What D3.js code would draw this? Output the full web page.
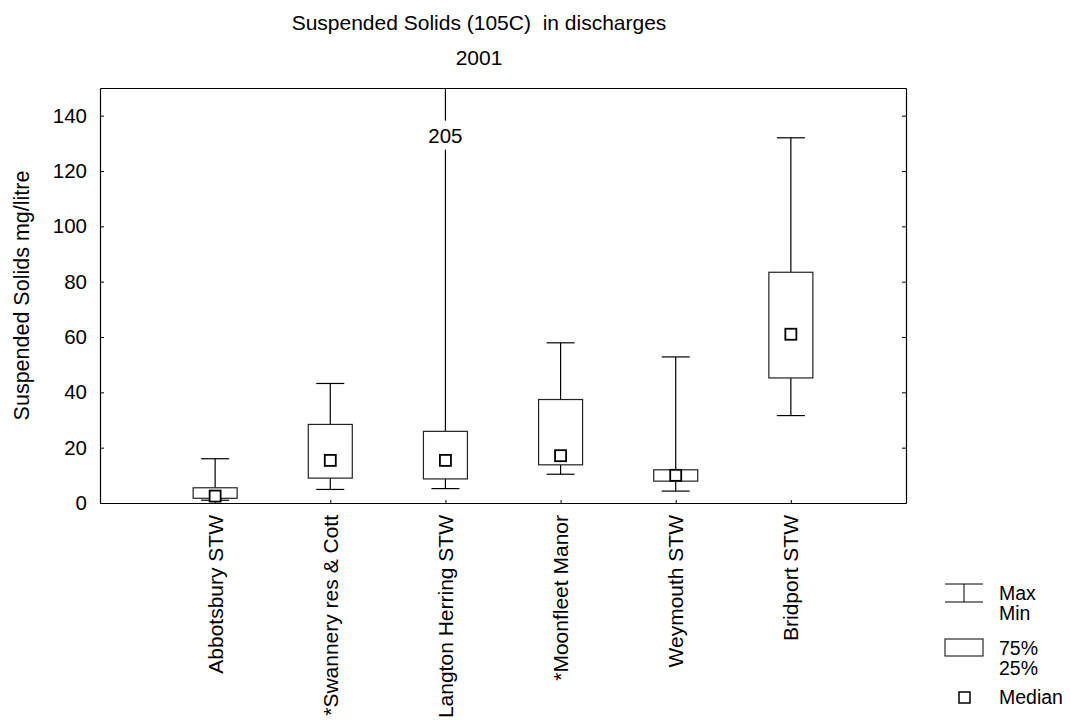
<!DOCTYPE html>
<html>
<head>
<meta charset="utf-8">
<script src="https://cdn.jsdelivr.net/npm/d3@7"></script>
<style>
  html, body { margin: 0; padding: 0; background: #fff; }
  svg { display: block; font-family: Arial, "Liberation Sans", sans-serif; }
  text { white-space: pre; }
</style>
</head>
<body>
<svg id="chart" width="1071" height="722"></svg>
<script>
// ---- Data ----
const categories = ["Abbotsbury STW", "*Swannery res & Cott", "Langton Herring STW", "*Moonfleet Manor", "Weymouth STW", "Bridport STW"];
const maxValues    = [16, 43.2, 205, 57.9, 52.8, 132];
const q3Values     = [5.5, 28.4, 25.9, 37.4, 12.0, 83.4];
const medianValues = [2.5, 15.4, 15.4, 17.1, 10.0, 61.0];
const q1Values     = [1.7, 9.0, 8.7, 13.8, 7.9, 45.2];
const minValues    = [1.0, 4.9, 5.2, 10.4, 4.3, 31.6];
const yTicks = [0, 20, 40, 60, 80, 100, 120, 140];
const titleLines = ["Suspended Solids (105C)  in discharges", "2001"];
const yLabel = "Suspended Solids mg/litre";
const legendLabels = [["Max", "Min"], ["75%", "25%"], ["Median"]];

// ---- Layout ----
const svg = d3.select("#chart");
const pLeft = 100, pRight = 906, pTop = 88, pBottom = 503;
const fs = 21;

const x = d3.scalePoint().domain(categories).range([pLeft, pRight]).padding(1);
const y = d3.scaleLinear().domain([0, 150]).range([pBottom, pTop]).clamp(true);

// title
svg.selectAll("text.title").data(titleLines).join("text")
  .attr("class", "title")
  .attr("x", 479).attr("y", (d, i) => 30 + i * 35)
  .attr("text-anchor", "middle").attr("font-size", fs).attr("fill", "#000")
  .attr("xml:space", "preserve")
  .text(d => d);

// axes
const gL = svg.append("g").attr("transform", `translate(${pLeft},0)`)
  .call(d3.axisLeft(y).tickValues(yTicks).tickSizeInner(-4).tickSizeOuter(0).tickPadding(13));
const gR = svg.append("g").attr("transform", `translate(${pRight},0)`)
  .call(d3.axisRight(y).tickValues(yTicks).tickSizeInner(-4).tickSizeOuter(0).tickFormat(""));
const gB = svg.append("g").attr("transform", `translate(0,${pBottom})`)
  .call(d3.axisBottom(x).tickSizeInner(-3).tickSizeOuter(0).tickFormat(""));
const gT = svg.append("g").attr("transform", `translate(0,${pTop})`)
  .call(d3.axisTop(x).tickSize(0).tickFormat(""));
[gL, gR, gB, gT].forEach(g => {
  g.select(".domain").attr("stroke", "#000").attr("stroke-width", 1.2);
  g.selectAll(".tick line").attr("stroke", "#000");
});
gL.selectAll(".tick text").attr("font-size", fs - 0.5).attr("fill", "#000")
  .attr("font-family", 'Arial, "Liberation Sans", sans-serif');

// x labels
svg.append("g").selectAll("text").data(categories).join("text")
  .attr("transform", d => `translate(${x(d)},${pBottom + 12}) rotate(-90)`)
  .attr("text-anchor", "end").attr("dy", "0.35em")
  .attr("font-size", fs).attr("fill", "#000")
  .text(d => d);

// y label
svg.append("text")
  .attr("transform", `translate(29,${(pTop + pBottom) / 2}) rotate(-90)`)
  .attr("text-anchor", "middle").attr("font-size", fs + 0.5).attr("fill", "#000")
  .text(yLabel);

// boxes
const boxHalf = 22, capHalf = 14, med = 11;
const data = categories.map((c, i) => ({
  c, max: maxValues[i], q3: q3Values[i], med: medianValues[i], q1: q1Values[i], min: minValues[i]
}));
const gBox = svg.append("g");
data.forEach(d => {
  const cx = x(d.c);
  const g = gBox.append("g");
  g.append("line").attr("x1", cx).attr("x2", cx).attr("y1", y(d.max)).attr("y2", y(d.q3))
    .attr("stroke", "#000").attr("stroke-width", 1.2);
  g.append("line").attr("x1", cx).attr("x2", cx).attr("y1", y(d.q1)).attr("y2", y(d.min))
    .attr("stroke", "#000").attr("stroke-width", 1.2);
  if (d.max <= 150) {
    g.append("line").attr("x1", cx - capHalf).attr("x2", cx + capHalf).attr("y1", y(d.max)).attr("y2", y(d.max))
      .attr("stroke", "#000").attr("stroke-width", 1.2);
  } else {
    const t = g.append("text").attr("x", cx).attr("y", y(140) + 27)
      .attr("text-anchor", "middle").attr("font-size", fs - 0.5).attr("fill", "#000")
      .text(d3.format("d")(d.max));
    const bb = t.node().getBBox();
    g.insert("rect", "text").attr("x", bb.x - 2).attr("y", bb.y - 3)
      .attr("width", bb.width + 4).attr("height", bb.height + 6).attr("fill", "#fff");
  }
  g.append("line").attr("x1", cx - capHalf).attr("x2", cx + capHalf).attr("y1", y(d.min)).attr("y2", y(d.min))
    .attr("stroke", "#000").attr("stroke-width", 1.2);
  g.append("rect").attr("x", cx - boxHalf).attr("width", boxHalf * 2)
    .attr("y", y(d.q3)).attr("height", y(d.q1) - y(d.q3))
    .attr("fill", "#fff").attr("stroke", "#222").attr("stroke-width", 1.2);
  g.append("rect").attr("x", cx - med / 2).attr("y", y(d.med) - med / 2)
    .attr("width", med).attr("height", med)
    .attr("fill", "#fff").attr("stroke", "#000").attr("stroke-width", 1.8);
});

// legend
const lg = svg.append("g").attr("font-size", 19.5).attr("fill", "#000");
const lx0 = 945, lx1 = 983, ltx = 999;
lg.append("line").attr("x1", lx0).attr("x2", lx1).attr("y1", 584).attr("y2", 584).attr("stroke", "#000");
lg.append("line").attr("x1", lx0).attr("x2", lx1).attr("y1", 602).attr("y2", 602).attr("stroke", "#000");
lg.append("line").attr("x1", (lx0 + lx1) / 2).attr("x2", (lx0 + lx1) / 2).attr("y1", 584).attr("y2", 602).attr("stroke", "#000");
lg.append("rect").attr("x", lx0).attr("y", 639).attr("width", lx1 - lx0).attr("height", 17)
  .attr("fill", "#fff").attr("stroke", "#000");
lg.append("rect").attr("x", 959).attr("y", 692).attr("width", 11).attr("height", 11)
  .attr("fill", "#fff").attr("stroke", "#000").attr("stroke-width", 1.5);
const legendText = [[legendLabels[0][0], 600], [legendLabels[0][1], 620], [legendLabels[1][0], 655], [legendLabels[1][1], 675], [legendLabels[2][0], 704]];
lg.selectAll("text").data(legendText).join("text")
  .attr("x", ltx).attr("y", d => d[1]).text(d => d[0]);
</script>
</body>
</html>
